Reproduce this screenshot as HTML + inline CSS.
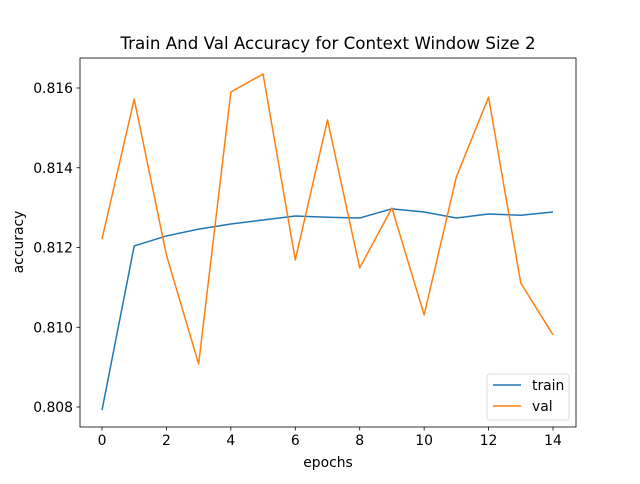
<!DOCTYPE html>
<html><head><meta charset="utf-8"><style>
body{margin:0;background:#fff;font-family:"DejaVu Sans","Liberation Sans",sans-serif;}
svg text{font-family:"DejaVu Sans","Liberation Sans",sans-serif;}
</style></head><body>
<svg id="chart" width="640" height="480" xmlns="http://www.w3.org/2000/svg"></svg>
<script>
const epochs=[0,1,2,3,4,5,6,7,8,9,10,11,12,13,14];
const trainAcc=[0.80792,0.81204,0.81229,0.81246,0.81259,0.81269,0.81279,0.81276,0.81274,0.81297,0.81289,0.81274,0.81284,0.81281,0.81289];
const valAcc=[0.81221,0.81572,0.81181,0.80908,0.8159,0.81635,0.81169,0.8152,0.81149,0.81299,0.81031,0.81377,0.81577,0.81111,0.80981];
const xTicks=[0,2,4,6,8,10,12,14];
const yTicks=[0.808,0.810,0.812,0.814,0.816];
const L=80,R=576,T=58,B=427;
const xs=v=>102+(v-0)*(553-102)/14;
const ys=v=>407-(v-0.808)*(407-88)/0.008;
const svg=document.getElementById('chart');
const NS='http://www.w3.org/2000/svg';
function mk(tag,attrs,parent){const e=document.createElementNS(NS,tag);for(const k in attrs)e.setAttribute(k,attrs[k]);(parent||svg).appendChild(e);return e;}
const frame=mk('rect',{x:L,y:T,width:R-L,height:B-T,fill:'#fff',stroke:'#000','stroke-width':0.8});


xTicks.forEach(t=>{const x=xs(t);
 const l=mk('line',{x1:x,x2:x,y1:B,y2:B+3.5,stroke:'#000','stroke-width':0.8});
 
 
 const tx=mk('text',{x:x,y:B+18,'font-size':13.9,'text-anchor':'middle',fill:'#000'});tx.textContent=t;
 
 });
yTicks.forEach(t=>{const y=ys(t);
 const l=mk('line',{x1:L-3.5,x2:L,y1:y,y2:y,stroke:'#000','stroke-width':0.8});
 
 
 const tx=mk('text',{x:L-7,y:y+5,'font-size':13.9,'text-anchor':'end',fill:'#000'});tx.textContent=t.toFixed(3);
 
 });
function line(data,color,name){const p=mk('polyline',{points:data.map((v,i)=>xs(epochs[i])+','+ys(v)).join(' '),fill:'none',stroke:color,'stroke-width':1.5,'stroke-linejoin':'round'});
 
 }
line(trainAcc,'#1f77b4','train-line');
line(valAcc,'#ff7f0e','val-line');
const title=mk('text',{x:328,y:49,'font-size':16.7,'text-anchor':'middle',fill:'#000'});title.textContent='Train And Val Accuracy for Context Window Size 2';


const xl=mk('text',{x:328,y:467,'font-size':13.9,'text-anchor':'middle',fill:'#000'});xl.textContent='epochs';


const yl=mk('text',{x:0,y:0,'font-size':13.9,'text-anchor':'middle',fill:'#000',transform:'translate(23,242) rotate(-90)'});yl.textContent='accuracy';


const lg=mk('rect',{x:487,y:374,width:82,height:46,rx:3,fill:'#fff',stroke:'#ccc','stroke-width':0.8,opacity:0.9});


[['train','#1f77b4',385],['val','#ff7f0e',406]].forEach(([n,c,y])=>{
 const l=mk('line',{x1:493,x2:521,y1:y,y2:y,stroke:c,'stroke-width':1.5});
 
 
 const t=mk('text',{x:532,y:y+5,'font-size':13.9,fill:'#000'});t.textContent=n;
 
 });
</script>
</body></html>
